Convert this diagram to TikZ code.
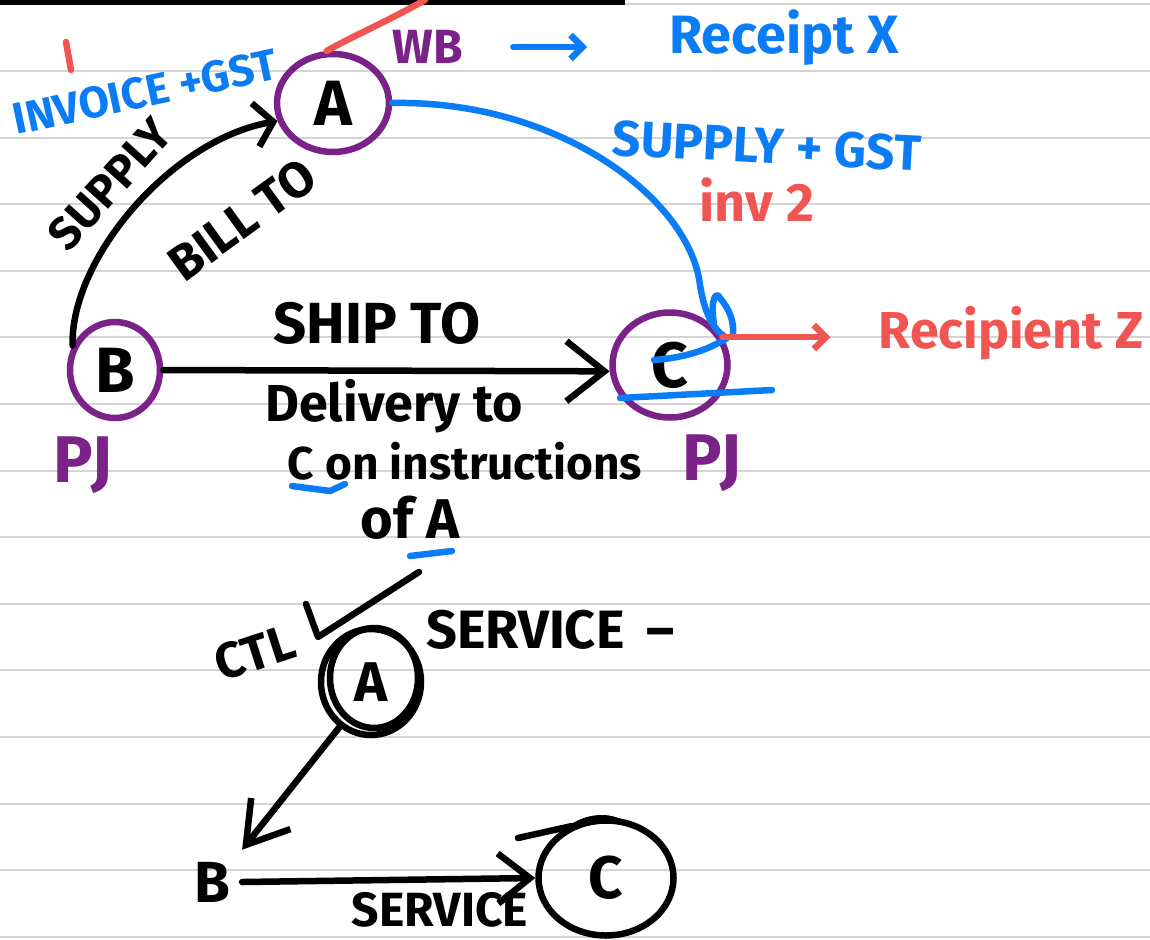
\documentclass[tikz,border=0pt]{standalone}
\usepackage{fontspec}
\setmainfont{Fira Sans}
\usetikzlibrary{shapes.geometric,arrows.meta}
\definecolor{pj}{HTML}{7A2288}
\definecolor{inkblue}{HTML}{0A7CF6}
\definecolor{inkred}{HTML}{F15552}
\definecolor{ruleline}{HTML}{D4D4D4}
\tikzset{
  pen/.style={line width=6.5pt, line cap=round, line join=round},
  hand/.style={font=\bfseries\fontsize{#1}{#1}\selectfont, inner sep=0pt},
  ring/.style={ellipse, draw=#1, pen, inner sep=0pt},
  barb/.style={-{Straight Barb[length=18pt, width=44pt]}},
  bigbarb/.style={-{Straight Barb[length=38pt, width=60pt]}},
  smallbarb/.style={-{Straight Barb[length=12pt, width=24pt]}},
}
\begin{document}
\begin{tikzpicture}[x=1pt, y=-1pt]
  % page and ruling
  \fill[white] (0,0) rectangle (1150,939);
  \useasboundingbox (0,0) rectangle (1150,939);
  \foreach \k in {0,...,13} \draw[ruleline, line width=2pt] (0,71+66.6*\k) -- (1150,71+66.6*\k);
  \draw[ruleline, line width=2pt] (620,4) -- (1150,4);
  \fill[black] (0,0) rectangle (625,5);

  % ---------- upper sketch ----------
  \node[ring=pj, minimum width=112pt, minimum height=98pt, hand=64] (A) at (333,103) {A};
  \node[ring=pj, minimum width=90pt, minimum height=96pt, hand=64] (B) at (115,370) {B};
  \node[ring=pj, minimum width=115pt, minimum height=105pt, hand=64] (C) at (670,365) {C};

  \node[hand=66, text=pj] (pjB) at (83,465) {PJ};
  \node[hand=66, text=pj] (pjC) at (712,463) {PJ};

  % bill-to supply curve and ship-to arrow
  \draw[pen, barb] (B.150) .. controls (70,260) and (170,140) .. (A.198);
  \node[hand=46, rotate=48] (supply) at (110,184) {SUPPLY};
  \node[hand=50, rotate=36] (billto) at (242,220) {BILL TO};
  \draw[pen, bigbarb] (B.east) -- (C.186);
  \node[hand=58] (shipto) at (377,323) {SHIP TO};
  \node[hand=52] (deliv) at (394,406) {Delivery to};
  \node[hand=46] (instr) at (465,461) {C on instructions};
  \node[hand=56] (ofa) at (410,518) {of A};
  \draw[inkblue, pen] (292,486) -- (330,491) -- (345,484);
  \draw[inkblue, pen] (410,556) -- (452,551);

  % invoice 1 to A
  \draw[inkred, pen] (66,42) -- (71,70);
  \node[hand=44, text=inkblue, rotate=12] (inv1) at (145,92) {INVOICE +GST};

  % A: waybill and receipt
  \coordinate (redend) at (425,0);
  \draw[inkred, pen] (A.97) .. controls (345,40) and (390,20) .. (redend);
  \node[hand=48, text=pj] (wb) at (428,47) {WB};
  \node[hand=54, text=inkblue] (rx) at (784,38) {Receipt X};
  \draw[inkblue, pen, smallbarb, shorten <=50pt, shorten >=82pt] (wb.east) -- (rx.west |- wb.east);

  % A to C, second invoice
  \draw[inkblue, pen] (A.east) .. controls (560,100) and (690,200) .. (700,285)
        .. controls (704,310) and (712,330) .. (727,338)
        .. controls (705,352) and (680,358) .. (654,360);
  \draw[inkblue, pen] (714,324) .. controls (710,300) and (716,290) .. (720,298)
        .. controls (730,310) and (734,322) .. (733,334);
  \draw[inkblue, pen] (620,398) -- (772,390);
  \node[hand=50, text=inkblue, rotate=-3] (inv2) at (767,146) {SUPPLY + GST};
  \node[hand=54, text=inkred] (inv2num) at (757,200) {inv 2};

  % C to recipient
  \node[hand=52, text=inkred] (rz) at (1011,333) {Recipient Z};
  \draw[inkred, pen, smallbarb, shorten >=48pt] (C.28) -- (C.28 -| rz.west);

  % ---------- lower sketch ----------
  \draw[pen] (306,604) -- (318,637) -- (419,572);
  \node[hand=50, rotate=18] (ctl) at (255,653) {CTL};
  \node[ring=black, minimum width=100pt, minimum height=106pt, hand=56] (A2) at (371,682) {A};
  \draw[pen] (374,678) ellipse (44pt and 50pt);
  \node[hand=54, anchor=west] (svc1) at (426,630) {SERVICE\hspace{22pt}–};

  \node[hand=58, inner sep=12pt] (B2) at (212,882) {B};
  \node[ring=black, minimum width=135pt, minimum height=115pt, hand=60] (C2) at (606,878) {C};
  \draw[pen] (518,838) -- (572,826);
  \fill[black] (566,828) .. controls (585,812) and (615,810) .. (630,826)
        .. controls (612,822) and (590,822) .. (566,832) -- cycle;
  \draw[pen, -{Straight Barb[length=40pt, width=50pt]}] (A2.235) -- (B2.north east);
  \draw[pen, -{Straight Barb[length=32pt, width=50pt]}] (B2.east) -- (C2.west);
  \node[hand=48] (svc2) at (440,910) {SERVICE};
\end{tikzpicture}
\end{document}
